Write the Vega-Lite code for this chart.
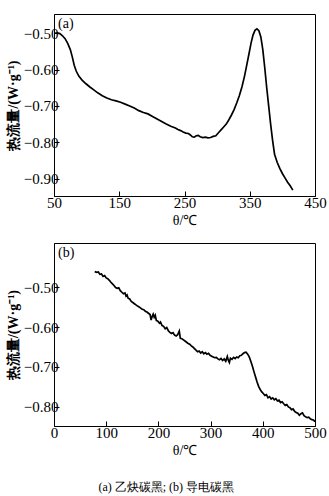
{
  "$schema": "https://vega.github.io/schema/vega-lite/v6.json",
  "padding": {"left": 5, "top": 13, "right": 5, "bottom": 5},
  "background": "white",
  "config": {
    "view": {"stroke": "black", "strokeWidth": 1},
    "axis": {
      "grid": false,
      "domainColor": "black",
      "tickColor": "black",
      "labelColor": "black",
      "titleColor": "black",
      "labelFont": "Liberation Serif",
      "labelFontSize": 15,
      "titleFont": "Liberation Serif",
      "titleFontSize": 14,
      "tickSize": -5,
      "labelFlush": false,
      "labelOverlap": false
    },
    "axisX": {"labelPadding": 4},
    "axisY": {"labelPadding": 1},
    "title": {"font": "Liberation Serif", "fontSize": 14, "fontWeight": "normal", "color": "black"}
  },
  "datasets": {
    "a": [
      {"t":51,"q":-0.500},{"t":55,"q":-0.499},{"t":59,"q":-0.501},{"t":63,"q":-0.507},{"t":67,"q":-0.515},{"t":71,"q":-0.528},{"t":75,"q":-0.545},{"t":78,"q":-0.565},{"t":81,"q":-0.588},{"t":84,"q":-0.604},{"t":88,"q":-0.618},{"t":93,"q":-0.629},{"t":99,"q":-0.639},{"t":105,"q":-0.648},{"t":111,"q":-0.656},{"t":117,"q":-0.664},{"t":124,"q":-0.672},{"t":131,"q":-0.678},{"t":138,"q":-0.683},{"t":145,"q":-0.686},{"t":152,"q":-0.690},{"t":159,"q":-0.695},{"t":166,"q":-0.700},{"t":173,"q":-0.706},{"t":180,"q":-0.713},{"t":187,"q":-0.718},{"t":194,"q":-0.722},{"t":201,"q":-0.729},{"t":208,"q":-0.736},{"t":215,"q":-0.743},{"t":222,"q":-0.750},{"t":229,"q":-0.756},{"t":236,"q":-0.761},{"t":240,"q":-0.765},{"t":244,"q":-0.768},{"t":248,"q":-0.772},{"t":252,"q":-0.775},{"t":256,"q":-0.776},{"t":259,"q":-0.780},{"t":262,"q":-0.785},{"t":265,"q":-0.786},{"t":268,"q":-0.782},{"t":271,"q":-0.781},{"t":274,"q":-0.785},{"t":278,"q":-0.787},{"t":282,"q":-0.786},{"t":286,"q":-0.788},{"t":290,"q":-0.787},{"t":294,"q":-0.784},{"t":298,"q":-0.782},{"t":302,"q":-0.774},{"t":306,"q":-0.766},{"t":310,"q":-0.758},{"t":314,"q":-0.750},{"t":318,"q":-0.738},{"t":322,"q":-0.725},{"t":326,"q":-0.710},{"t":330,"q":-0.692},{"t":334,"q":-0.672},{"t":338,"q":-0.648},{"t":342,"q":-0.618},{"t":346,"q":-0.582},{"t":349,"q":-0.555},{"t":352,"q":-0.527},{"t":355,"q":-0.505},{"t":358,"q":-0.492},{"t":361,"q":-0.488},{"t":364,"q":-0.493},{"t":367,"q":-0.510},{"t":370,"q":-0.545},{"t":373,"q":-0.595},{"t":376,"q":-0.650},{"t":379,"q":-0.700},{"t":382,"q":-0.750},{"t":385,"q":-0.795},{"t":388,"q":-0.833},{"t":392,"q":-0.855},{"t":396,"q":-0.872},{"t":400,"q":-0.886},{"t":404,"q":-0.898},{"t":408,"q":-0.910},{"t":412,"q":-0.920},{"t":416,"q":-0.932}
    ],
    "b": [
      {"t":78,"q":-0.460},{"t":82,"q":-0.462},{"t":85,"q":-0.461},{"t":88,"q":-0.467},{"t":91,"q":-0.466},{"t":94,"q":-0.472},{"t":97,"q":-0.470},{"t":100,"q":-0.476},{"t":103,"q":-0.478},{"t":106,"q":-0.482},{"t":109,"q":-0.487},{"t":112,"q":-0.491},{"t":115,"q":-0.495},{"t":118,"q":-0.500},{"t":121,"q":-0.502},{"t":124,"q":-0.501},{"t":127,"q":-0.508},{"t":130,"q":-0.512},{"t":133,"q":-0.516},{"t":136,"q":-0.514},{"t":138,"q":-0.522},{"t":140,"q":-0.519},{"t":142,"q":-0.527},{"t":145,"q":-0.529},{"t":148,"q":-0.535},{"t":151,"q":-0.538},{"t":154,"q":-0.541},{"t":157,"q":-0.544},{"t":160,"q":-0.547},{"t":163,"q":-0.549},{"t":166,"q":-0.552},{"t":169,"q":-0.555},{"t":172,"q":-0.556},{"t":175,"q":-0.560},{"t":178,"q":-0.562},{"t":181,"q":-0.565},{"t":184,"q":-0.568},{"t":186,"q":-0.582},{"t":188,"q":-0.573},{"t":190,"q":-0.567},{"t":192,"q":-0.575},{"t":194,"q":-0.570},{"t":196,"q":-0.583},{"t":199,"q":-0.585},{"t":202,"q":-0.590},{"t":204,"q":-0.587},{"t":207,"q":-0.596},{"t":210,"q":-0.598},{"t":213,"q":-0.604},{"t":216,"q":-0.601},{"t":219,"q":-0.609},{"t":222,"q":-0.613},{"t":225,"q":-0.616},{"t":228,"q":-0.614},{"t":231,"q":-0.620},{"t":234,"q":-0.622},{"t":237,"q":-0.619},{"t":240,"q":-0.610},{"t":242,"q":-0.628},{"t":245,"q":-0.629},{"t":248,"q":-0.632},{"t":251,"q":-0.635},{"t":254,"q":-0.638},{"t":257,"q":-0.641},{"t":260,"q":-0.643},{"t":263,"q":-0.647},{"t":266,"q":-0.650},{"t":269,"q":-0.654},{"t":272,"q":-0.658},{"t":275,"q":-0.662},{"t":278,"q":-0.660},{"t":281,"q":-0.665},{"t":284,"q":-0.662},{"t":287,"q":-0.667},{"t":290,"q":-0.664},{"t":293,"q":-0.668},{"t":296,"q":-0.666},{"t":299,"q":-0.671},{"t":302,"q":-0.673},{"t":305,"q":-0.675},{"t":308,"q":-0.677},{"t":311,"q":-0.676},{"t":314,"q":-0.680},{"t":317,"q":-0.682},{"t":320,"q":-0.679},{"t":323,"q":-0.684},{"t":326,"q":-0.680},{"t":329,"q":-0.686},{"t":332,"q":-0.674},{"t":334,"q":-0.684},{"t":336,"q":-0.689},{"t":338,"q":-0.678},{"t":341,"q":-0.681},{"t":344,"q":-0.676},{"t":347,"q":-0.679},{"t":350,"q":-0.675},{"t":353,"q":-0.677},{"t":356,"q":-0.672},{"t":359,"q":-0.671},{"t":362,"q":-0.667},{"t":365,"q":-0.664},{"t":368,"q":-0.663},{"t":371,"q":-0.668},{"t":374,"q":-0.675},{"t":377,"q":-0.686},{"t":380,"q":-0.698},{"t":383,"q":-0.712},{"t":386,"q":-0.725},{"t":389,"q":-0.738},{"t":392,"q":-0.749},{"t":395,"q":-0.757},{"t":398,"q":-0.763},{"t":401,"q":-0.767},{"t":404,"q":-0.772},{"t":407,"q":-0.770},{"t":410,"q":-0.778},{"t":413,"q":-0.775},{"t":416,"q":-0.781},{"t":419,"q":-0.778},{"t":422,"q":-0.783},{"t":425,"q":-0.780},{"t":428,"q":-0.786},{"t":431,"q":-0.784},{"t":434,"q":-0.790},{"t":437,"q":-0.788},{"t":440,"q":-0.793},{"t":443,"q":-0.797},{"t":446,"q":-0.795},{"t":449,"q":-0.801},{"t":452,"q":-0.803},{"t":455,"q":-0.808},{"t":458,"q":-0.806},{"t":461,"q":-0.812},{"t":464,"q":-0.815},{"t":467,"q":-0.817},{"t":470,"q":-0.822},{"t":473,"q":-0.818},{"t":476,"q":-0.816},{"t":479,"q":-0.823},{"t":482,"q":-0.826},{"t":485,"q":-0.828},{"t":488,"q":-0.827},{"t":491,"q":-0.831},{"t":494,"q":-0.833},{"t":497,"q":-0.834},{"t":500,"q":-0.838}
    ]
  },
  "title": {"text": "(a)  乙炔碳黑;  (b)  导电碳黑", "orient": "bottom", "anchor": "middle", "fontSize": 12, "offset": 24},
  "spacing": 47,
  "bounds": "flush",
  "vconcat": [
    {
      "width": 261,
      "height": 182,
      "title": {"text": "(a)", "anchor": "start", "frame": "group", "offset": -17, "dx": 4},
      "data": {"name": "a"},
      "mark": {"type": "line", "color": "black", "strokeWidth": 1.7},
      "encoding": {
        "x": {"field": "t", "type": "quantitative", "scale": {"domain": [50, 450], "nice": false, "zero": false},
              "axis": {"values": [50, 150, 250, 350, 450], "title": "θ/℃", "titleFontWeight": "normal", "titlePadding": 3}},
        "y": {"field": "q", "type": "quantitative", "scale": {"domain": [-0.948, -0.447], "nice": false, "zero": false},
              "axis": {"values": [-0.5, -0.6, -0.7, -0.8, -0.9], "format": ".2f", "title": "热流量/(W·g⁻¹)", "titleFontWeight": "bold", "titlePadding": 3}}
      }
    },
    {
      "width": 261,
      "height": 183,
      "title": {"text": "(b)", "anchor": "start", "frame": "group", "offset": -17, "dx": 4},
      "data": {"name": "b"},
      "mark": {"type": "line", "color": "black", "strokeWidth": 1.7},
      "encoding": {
        "x": {"field": "t", "type": "quantitative", "scale": {"domain": [0, 500], "nice": false},
              "axis": {"values": [0, 100, 200, 300, 400, 500], "title": "θ/℃", "titleFontWeight": "normal", "titlePadding": 3}},
        "y": {"field": "q", "type": "quantitative", "scale": {"domain": [-0.849, -0.388], "nice": false, "zero": false},
              "axis": {"values": [-0.5, -0.6, -0.7, -0.8], "format": ".2f", "title": "热流量/(W·g⁻¹)", "titleFontWeight": "bold", "titlePadding": 3}}
      }
    }
  ]
}
